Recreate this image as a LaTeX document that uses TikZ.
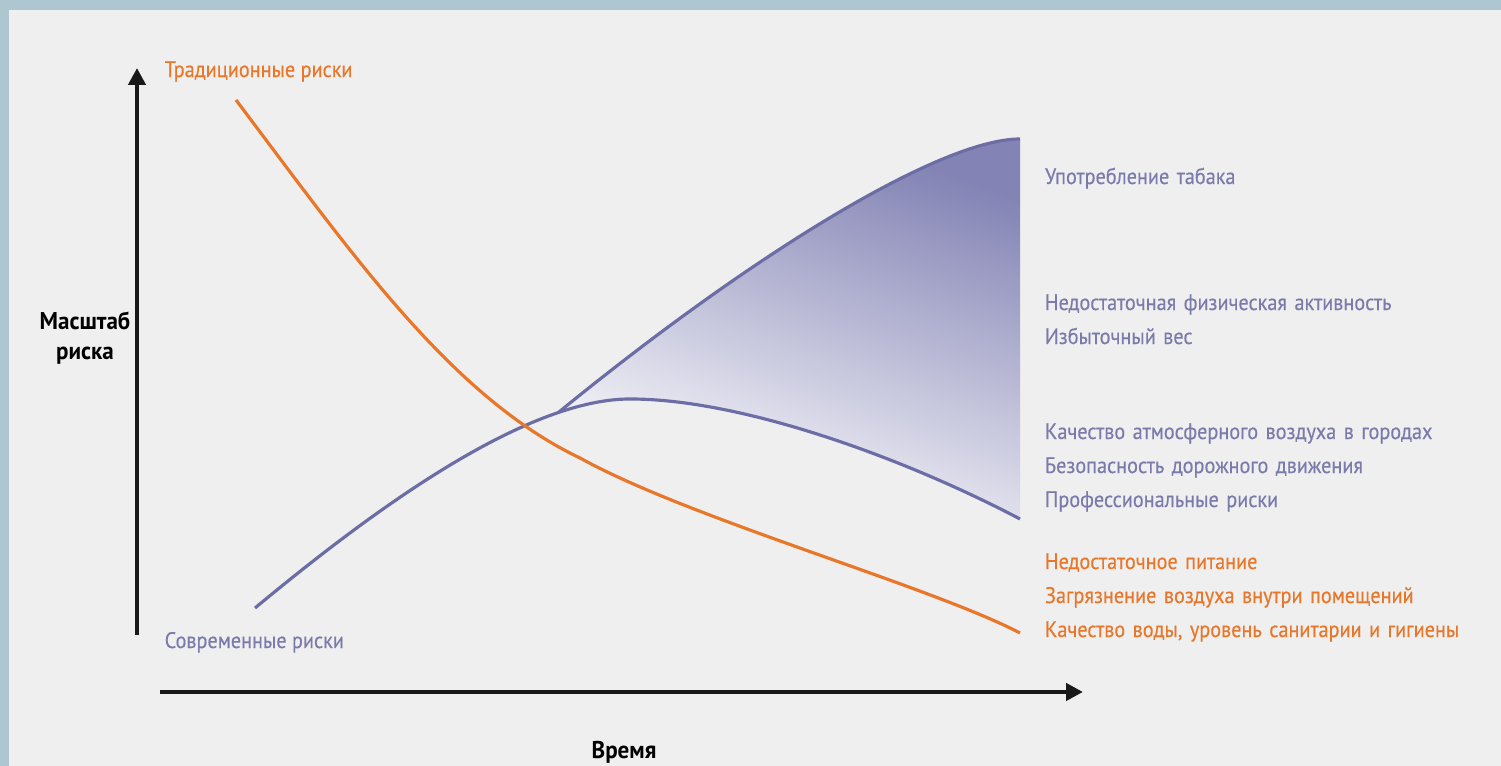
\documentclass[tikz,border=0pt]{standalone}
\usepackage{fontspec}
\newfontfamily\riskfont{PT Sans}[FakeStretch=0.9, FakeBold=0.3]
\newfontfamily\titlefont{PT Sans}[FakeStretch=0.95]
\usepackage{tikz}
\usetikzlibrary{arrows.meta}
\definecolor{orng}{HTML}{E8772A}
\definecolor{purp}{HTML}{6D6DA5}
\definecolor{ptxt}{HTML}{7B7BAB}
\definecolor{pdark}{HTML}{8383B5}
\definecolor{bg}{HTML}{EFEFEF}
\definecolor{edge}{HTML}{ADC6D0}

\begin{document}
\begin{tikzpicture}[txt/.style = {font=\riskfont\fontsize{6.4}{8}\selectfont, inner sep=0pt, text height=5pt, text depth=1pt},
orisk/.style = {txt, text=orng},
prisk/.style = {txt, text=ptxt},
item/.style = {text width=5cm, align=left},
title/.style = {font=\titlefont\bfseries\fontsize{6.9}{8.5}\selectfont, inner sep=0pt, align=center},
arr/.style = {line width=1.3pt, draw=black!90, -{Triangle[length=1.7mm,width=1.7mm]}},
curve/.style = {line width=0.9pt},
node distance={3.4mm}]
\useasboundingbox (0,0) rectangle (15.01,7.66);
\fill[edge] (0,0) rectangle (15.01,7.66);
\fill[bg] (0.09,0) rectangle (15.01,7.56);
\coordinate (y0) at (1.37,1.31);
\coordinate (y1) at (1.37,6.98);
\coordinate (x0) at (1.60,0.74);
\coordinate (x1) at (10.83,0.74);
\coordinate (s) at (2.55,1.58);
\coordinate (b) at (5.59,3.54);
\coordinate (p) at (6.30,3.67);
\coordinate (t) at (10.20,6.27);
\coordinate (e) at (10.20,2.47);
\coordinate (o0) at (2.36,6.66);
\coordinate (o1) at (5.80,3.08);
\coordinate (o2) at (10.20,1.33);
\draw[arr] (y0) -- (y1);
\draw[arr] (x0) -- (x1);
\shade[top color=pdark, middle color=pdark!8, bottom color=white, shading angle=-20] (b) .. controls (7.5,5.1) and (9.4,6.27) .. (t) -- (e) .. controls (9.0,3.1) and (7.4,3.67) .. (p) .. controls (6.0,3.67) and (5.75,3.62) .. (b) -- cycle;
\draw[curve, purp] (s) .. controls (3.6,2.45) and (5.2,3.67) .. (p) .. controls (7.4,3.67) and (9.0,3.1) .. (e);
\draw[curve, purp] (b) .. controls (7.5,5.1) and (9.4,6.27) .. (t);
\draw[curve, orng] (o0) .. controls (3.5,5.15) and (4.5,3.7) .. (o1) .. controls (6.9,2.47) and (9.3,1.80) .. (o2);
\node[orisk, anchor=west] (trad) at (1.64,6.96) {Традиционные риски};
\node[prisk, anchor=west] (modern) at (1.64,1.25) {Современные риски};
\node[title] (scale) at (0.85,4.28) {Масштаб\\риска};
\node[title] (time) at (6.24,0.14) {Время};
\node[prisk, item] (tab) at (12.95,5.89) {Употребление табака};
\node[prisk, item] (act) [below of=tab, node distance=12.6mm] {Недостаточная физическая активность};
\node[prisk, item] (ves) [below of=act] {Избыточный вес};
\node[prisk, item] (air) [below of=ves, node distance=9.5mm] {Качество атмосферного воздуха в городах};
\node[prisk, item] (road) [below of=air] {Безопасность дорожного движения};
\node[prisk, item] (prof) [below of=road] {Профессиональные риски};
\node[orisk, item] (food) [below of=prof, node distance=6.2mm] {Недостаточное питание};
\node[orisk, item] (indoor) [below of=food] {Загрязнение воздуха внутри помещений};
\node[orisk, item] (water) [below of=indoor] {Качество воды, уровень санитарии и гигиены};
\end{tikzpicture}
\end{document}
